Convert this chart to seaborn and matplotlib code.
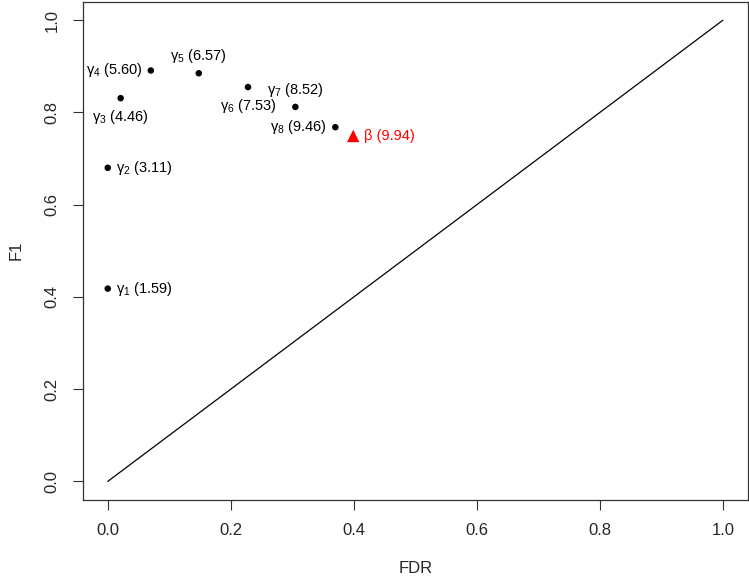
import numpy as np
import pandas as pd
import matplotlib
matplotlib.use('Agg')
import matplotlib.pyplot as plt
import seaborn as sns

# values
fdr = [0.000, 0.000, 0.021, 0.070, 0.148, 0.228, 0.305, 0.370]
f1 = [0.418, 0.680, 0.831, 0.891, 0.885, 0.855, 0.812, 0.768]
gamma_ids = [1, 2, 3, 4, 5, 6, 7, 8]
gamma_vals = ['1.59', '3.11', '4.46', '5.60', '6.57', '7.53', '8.52', '9.46']
# R text() style position: 1 below, 2 left, 3 above, 4 right
label_pos = [4, 4, 1, 2, 3, 1, 3, 2]

beta_fdr = [0.399]
beta_f1 = [0.749]
beta_val = '9.94'

diag = [0.0, 1.0]

sns.set_style('ticks')
plt.rcParams['font.family'] = ['Liberation Sans', 'DejaVu Sans']
plt.rcParams['mathtext.fontset'] = 'custom'
plt.rcParams['mathtext.rm'] = 'Liberation Sans'
plt.rcParams['mathtext.it'] = 'Liberation Sans'

fig = plt.figure(figsize=(7.49, 5.86), dpi=100)
ax = fig.add_axes([0.111, 0.147, 0.887, 0.85])

ax.plot(diag, diag, color='black', lw=0.9)

df = pd.DataFrame({'FDR': fdr, 'F1': f1})
sns.scatterplot(data=df, x='FDR', y='F1', ax=ax, color='black', s=22,
                edgecolor='none', zorder=3)
sns.scatterplot(x=beta_fdr, y=beta_f1, ax=ax, color='red', marker='^', s=80,
                edgecolor='none', zorder=3)

offsets = {1: ((0, -7), 'center', 'top'),
           2: ((-6, 0), 'right', 'center'),
           3: ((0, 6), 'center', 'bottom'),
           4: ((6, 0), 'left', 'center')}

for x, y, i, v, p in zip(fdr, f1, gamma_ids, gamma_vals, label_pos):
    off, ha, va = offsets[p]
    ax.annotate(r'$\mathregular{\gamma_{%d}}$ (%s)' % (i, v), (x, y),
                xytext=off, textcoords='offset points', ha=ha, va=va,
                fontsize=10.5, color='black')

off, ha, va = offsets[4]
ax.annotate(r'β (%s)' % beta_val, (beta_fdr[0], beta_f1[0]), xytext=(8, 0),
            textcoords='offset points', ha=ha, va=va, fontsize=10.5, color='red')

ax.set_xlim(-0.04, 1.04)
ax.set_ylim(-0.04, 1.04)
ticks = np.arange(0, 1.01, 0.2)
ax.set_xticks(ticks)
ax.set_yticks(ticks)
ax.set_xticklabels(['%.1f' % t for t in ticks])
ax.set_yticklabels(['%.1f' % t for t in ticks], rotation=90, va='center')
ax.tick_params(length=7, width=0.8, labelsize=12, pad=10, color='#333333')
for s in ax.spines.values():
    s.set_linewidth(0.9)
    s.set_color('#333333')

ax.set_xlabel('FDR', fontsize=12, labelpad=16)
ax.set_ylabel('F1', fontsize=12, labelpad=15)

fig.savefig('out.png', dpi=100)
